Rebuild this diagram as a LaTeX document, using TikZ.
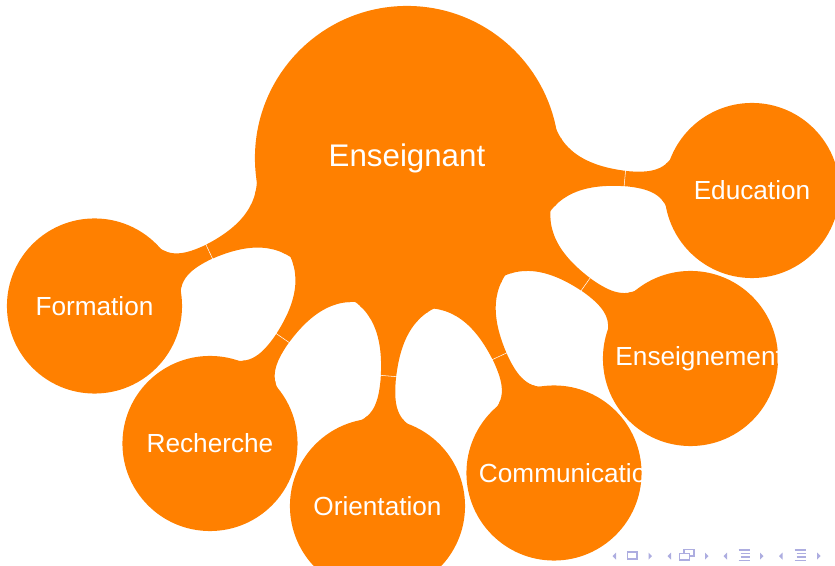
\documentclass[tikz,border=0pt]{standalone}
\usepackage{fontspec}
\setmainfont{Liberation Sans}
\usetikzlibrary{mindmap,calc}

\definecolor{navcolor}{RGB}{173,173,224}

\begin{document}
\begin{tikzpicture}[mindmap, concept color=orange, text=white,
  rootconcept/.style={concept, minimum size=6.04cm, text width=4cm,
    font=\fontsize{17.8}{21}\selectfont},
  subconcept/.style={concept, minimum size=3.46cm, text width=3cm,
    font=\fontsize{14.9}{18}\selectfont},
  link/.style={circle connection bar switch color=from (orange) to (orange)},
  seam/.style={white, line width=0.3pt},
  navsym/.style={fill=navcolor, draw=none}]
\useasboundingbox (-8.14,3.16) rectangle (8.56,-8.16);

\node[rootconcept] (root) at (0,0) {Enseignant};

\node[subconcept] (education)     at (6.90,-0.65)  {Education};
\node[subconcept] (enseignement)  at (5.67,-4.01)  {Enseignement};
\node[subconcept] (communication) at (2.94,-6.30)  {Communication};
\node[subconcept] (orientation)   at (-0.59,-6.96) {Orientation};
\node[subconcept] (recherche)     at (-3.94,-5.71) {Recherche};
\node[subconcept] (formation)     at (-6.25,-2.96) {Formation};

\foreach \n in {education,enseignement,communication,orientation,recherche,formation} {
  \path (root) to[link] (\n);
  \draw[seam] ($(root)!4.38cm!2.4:(\n)$) -- ($(root)!4.38cm!-2.4:(\n)$);
}

% navigation symbols
\begin{scope}[x=0.02cm, y=-0.02cm, shift={(-407,-158)}]
\foreach \xa/\xb in {612.5/648.5, 667.5/705, 723.5/760, 779/817} {
  \fill[navsym] (\xa,556) -- (\xa+3.5,552.5) -- (\xa+3.5,559.5) -- cycle;
  \fill[navsym] (\xb+3.5,556) -- (\xb,552.5) -- (\xb,559.5) -- cycle;
}
\draw[navcolor, line width=0.025cm] (627.5,552) rectangle (637,559);
\draw[navcolor, line width=0.025cm, fill=white] (684,549.5) rectangle (694,556);
\draw[navcolor, line width=0.025cm, fill=white] (679.5,553.5) rectangle (689.5,560);
\foreach \xs in {738.5, 794.5} {
  \draw[navcolor, line width=0.025cm] (\xs,550) -- (\xs+11,550);
  \draw[navcolor, line width=0.025cm] (\xs+2,553.5) -- (\xs+11,553.5);
  \draw[navcolor, line width=0.025cm] (\xs+2,557) -- (\xs+11,557);
  \draw[navcolor, line width=0.025cm] (\xs,560.5) -- (\xs+11,560.5);
}
\end{scope}
\end{tikzpicture}
\end{document}
